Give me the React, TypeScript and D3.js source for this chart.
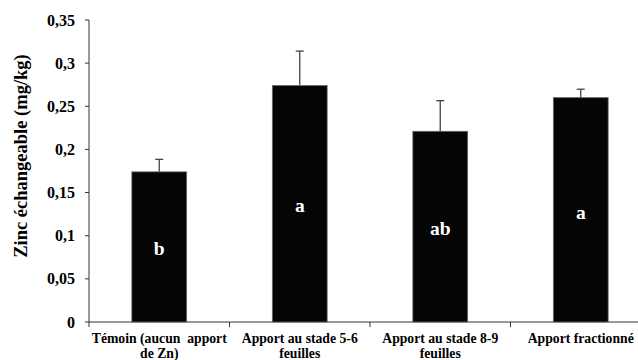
import React from "react";
import * as d3 from "d3";

const categories = [
  ["Témoin (aucun  apport", "de Zn)"],
  ["Apport au stade 5-6", "feuilles"],
  ["Apport au stade 8-9", "feuilles"],
  ["Apport fractionné"],
];
const values = [0.174, 0.274, 0.221, 0.26];
const errors = [0.0145, 0.04, 0.0355, 0.0098];
const letters = ["b", "a", "ab", "a"];
const letterValues = [0.085, 0.135, 0.109, 0.127];
const yTicks = [0, 0.05, 0.1, 0.15, 0.2, 0.25, 0.3, 0.35];

const W = 638;
const H = 360;
const margin = { left: 89, top: 20, bottom: 38 };
const bandW = 140.5;

const App = () => {
  const y = d3.scaleLinear().domain([0, 0.35]).range([H - margin.bottom, margin.top]);
  const x = d3
    .scaleBand()
    .domain(categories.map((c, i) => String(i)))
    .range([margin.left, margin.left + bandW * categories.length])
    .paddingInner(0.61)
    .paddingOuter(0.305);
  const fmt = (v) => (v === 0 ? "0" : String(v).replace(".", ","));
  const font = "'Liberation Serif', 'DejaVu Serif', serif";

  return (
    <svg
      width={W}
      height={H}
      style={{ position: "absolute", left: 0, top: 0, fontFamily: font, fontWeight: "bold" }}
    >
      <rect width={W} height={H} fill="white" />
      {/* y axis */}
      <line x1={margin.left} x2={margin.left} y1={y(0.35)} y2={y(0)} stroke="#333" />
      {yTicks.map((t) => (
        <g key={t}>
          <line x1={margin.left - 4} x2={margin.left} y1={y(t)} y2={y(t)} stroke="#333" />
          <text x={margin.left - 14} y={y(t)} dy="0.35em" textAnchor="end" fontSize="16">
            {fmt(t)}
          </text>
        </g>
      ))}
      <text
        transform="translate(21 156) rotate(-90)"
        textAnchor="middle"
        dy="0.35em"
        fontSize="18.5"
      >
        Zinc échangeable (mg/kg)
      </text>
      {/* x axis */}
      <line x1={margin.left} x2={W} y1={y(0)} y2={y(0)} stroke="#333" />
      {categories.map((c, i) => (
        <line
          key={i}
          x1={margin.left + bandW * i}
          x2={margin.left + bandW * i}
          y1={y(0)}
          y2={y(0) + 5}
          stroke="#333"
        />
      ))}
      {/* bars */}
      {values.map((v, i) => {
        const bx = x(String(i));
        const cx = bx + x.bandwidth() / 2;
        return (
          <g key={i}>
            <line x1={cx} x2={cx} y1={y(v)} y2={y(v + errors[i])} stroke="#444" strokeWidth="1.3" />
            <line x1={cx - 4} x2={cx + 4} y1={y(v + errors[i])} y2={y(v + errors[i])} stroke="#444" strokeWidth="1.3" />
            <rect x={bx} y={y(v)} width={x.bandwidth()} height={y(0) - y(v)} fill="#050505" stroke="#666" strokeWidth="0.8" />
            <text x={cx} y={y(letterValues[i])} dy="0.35em" textAnchor="middle" fill="white" fontSize="19.5">
              {letters[i]}
            </text>
            {categories[i].map((line, j) => (
              <text key={j} x={cx} y={343 + j * 15} textAnchor="middle" fontSize="13.7" style={{ whiteSpace: "pre" }}>
                {line}
              </text>
            ))}
          </g>
        );
      })}
    </svg>
  );
};

export default App;
